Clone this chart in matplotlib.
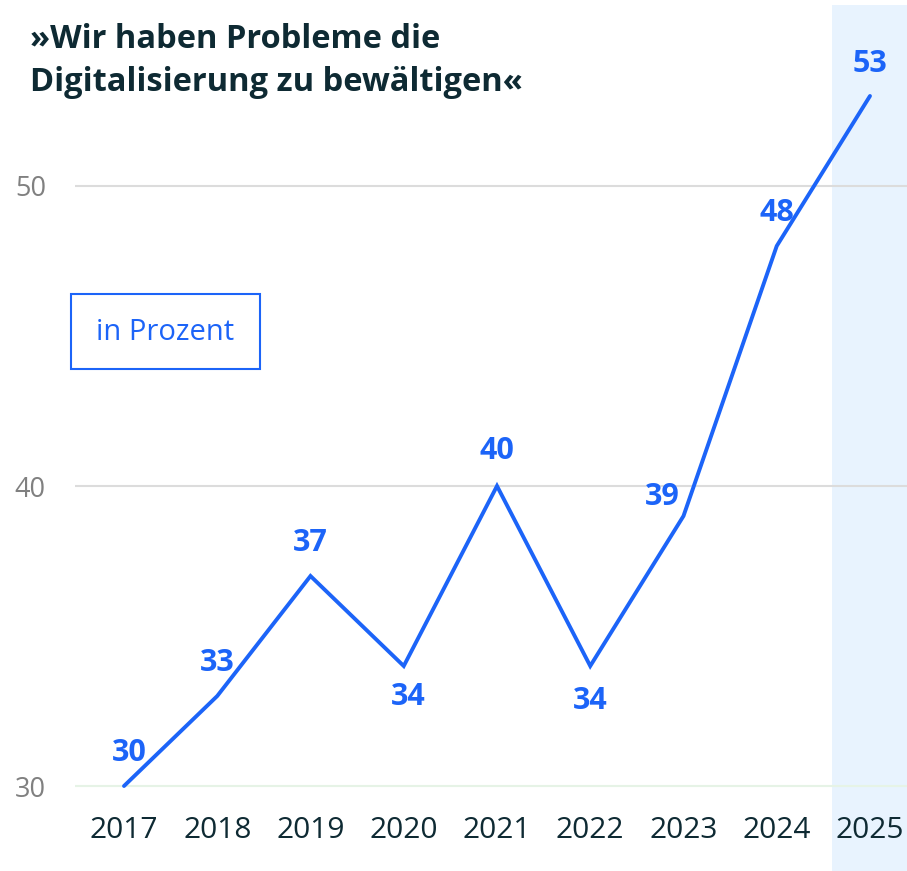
import matplotlib.pyplot as plt
import matplotlib.patches as patches
from matplotlib.transforms import blended_transform_factory

years = [2017, 2018, 2019, 2020, 2021, 2022, 2023, 2024, 2025]
values = [30, 33, 37, 34, 40, 34, 39, 48, 53]
yticks = [30, 40, 50]
# label offsets in points (dx, dy)
label_offsets = [(4, 24), (0, 24), (0, 24), (3, -22), (0, 25), (0, -25), (-15, 14), (0, 24), (0, 23)]
title = "»Wir haben Probleme die\nDigitalisierung zu bewältigen«"
unit = "in Prozent"

BLUE = "#1c64f8"
DARK = "#0e2a33"
GREY = "#808080"
BAND = "#e8f3fe"

plt.rcParams['font.family'] = ['Open Sans', 'DejaVu Sans']

W, H = 907, 871
fig = plt.figure(figsize=(W / 100, H / 100), dpi=100)
ax = fig.add_axes([75 / W, 0, 832 / W, 866 / H])
ax.set_xlim(2016.4745, 2025.397)
ax.set_ylim(27.167, 56.033)
for s in ax.spines.values():
    s.set_visible(False)
ax.set_xticks([])
ax.set_yticks(yticks)
ax.set_yticklabels([str(t) for t in yticks], color=GREY, fontsize=19.5)
ax.tick_params(axis='y', length=0, pad=21)

ax.axvspan(2024.592, 2025.397, color=BAND, zorder=0, lw=0)
for t in yticks:
    ax.axhline(t, color="#e6f3e6" if t == 30 else "#dcdcdc", lw=1.5, zorder=1)

ax.plot(years, values, color=BLUE, lw=2.8, zorder=3, solid_capstyle='round', solid_joinstyle='miter')

for x, v, (dx, dy) in zip(years, values, label_offsets):
    ax.annotate(str(v), (x, v), xytext=(dx, dy), textcoords='offset points',
                ha='center', va='center', color=BLUE, fontsize=22, fontweight='bold', zorder=4)

trans = blended_transform_factory(ax.transData, fig.transFigure)
for x in years:
    ax.text(x, 1 - 830 / H, str(x), transform=trans, ha='center', va='center',
            color=DARK, fontsize=21.5)

fig.text(30 / W, 1 - 61 / H, title, ha='left', va='center', color=DARK,
         fontsize=23.5, fontweight='bold', linespacing=1.4)

fig.patches.append(patches.Rectangle((71 / W, 1 - 369 / H), 189 / W, 75 / H,
                                     transform=fig.transFigure, fill=False,
                                     edgecolor=BLUE, lw=1.5))
fig.text(165 / W, 1 - 332 / H, unit, ha='center', va='center', color=BLUE, fontsize=21)

fig.savefig("out.png", dpi=100)
